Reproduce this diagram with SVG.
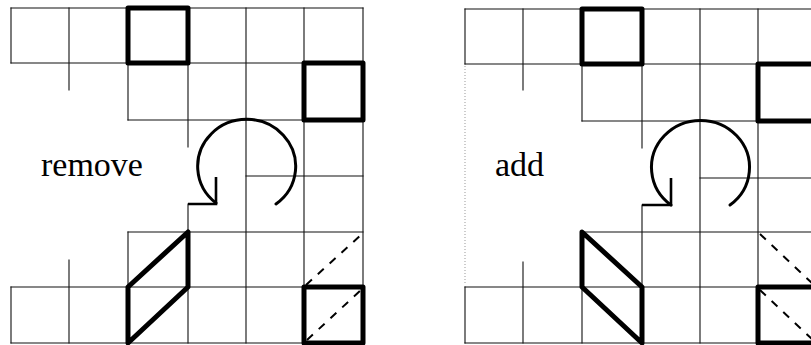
<svg xmlns="http://www.w3.org/2000/svg" width="811" height="345" viewBox="0 0 811 345">
<defs>
<style>
.g{stroke:#111;stroke-width:1.1;fill:none;stroke-linecap:square}
.t{stroke:#000;stroke-width:5;fill:none;stroke-linejoin:round;stroke-linecap:round}
.c{stroke:#000;stroke-width:3;fill:none;stroke-linecap:round}
.h{stroke:#000;stroke-width:2.6;fill:none;stroke-linecap:butt;stroke-linejoin:miter}
.d{stroke:#000;stroke-width:2;fill:none;stroke-dasharray:8 8}
.f{stroke:#999;stroke-width:1;fill:none;stroke-dasharray:1 2}
.lbl{font-family:"Liberation Serif","Times New Roman",serif;font-size:34px;fill:#000}
</style>
</defs>
<rect width="811" height="345" fill="#fff"/>

<g id="panel-remove">
<g id="grid-left">
<path class="g" d="M11 8H363M11 63H363M128 120H363M246 176H363M128 232H363M11 287H363M11 343H363"/>
<path class="g" d="M11 8V63M11 287V343M69 8V90M69 260V343M128 8V120M128 232V343M188 8V147M188 204V343M246 8V343M304 8V343M363 8V343"/>
</g>
<g id="thick-left">
<rect class="t" x="128" y="8" width="60" height="55"/>
<rect class="t" x="304" y="63" width="59" height="57"/>
<path class="t" d="M128 287L188 232V287L128 343Z"/>
<rect class="t" x="304" y="287" width="59" height="56"/>
</g>
<g id="dashed-left">
<path class="d" d="M306 285L362 234"/>
<path class="d" d="M307 340L361 290"/>
</g>
<g id="rotate-left">
<path class="c" d="M276 204A49 47 0 1 0 216 203"/>
<path class="h" d="M216 177V204H188"/>
</g>
<text class="lbl" x="41" y="176">remove</text>
</g>

<g id="panel-add">
<g id="grid-right">
<path class="g" d="M465 9H811M465 64H811M582 121H811M700 178H811M582 232H811M465 287H811M465 343H811"/>
<path class="g" d="M465 9V64M465 287V343M523 9V90M523 262V343M582 9V121M582 232V343M642 9V148M642 205V343M700 9V343M758 9V343"/>
<path class="f" d="M465 66V285"/>
</g>
<g id="thick-right">
<rect class="t" x="582" y="9" width="60" height="55"/>
<path class="t" d="M815 64H758V121H815"/>
<path class="t" d="M582 232L642 287V343L582 287Z"/>
<path class="t" d="M815 287H758V343H815"/>
</g>
<g id="dashed-right">
<path class="d" d="M760 234L815 286"/>
<path class="d" d="M760 290L815 342"/>
</g>
<g id="rotate-right">
<path class="c" d="M730 205A49 47 0 1 0 671 205"/>
<path class="h" d="M671 178V205H642"/>
</g>
<text class="lbl" x="495" y="176">add</text>
</g>
</svg>
